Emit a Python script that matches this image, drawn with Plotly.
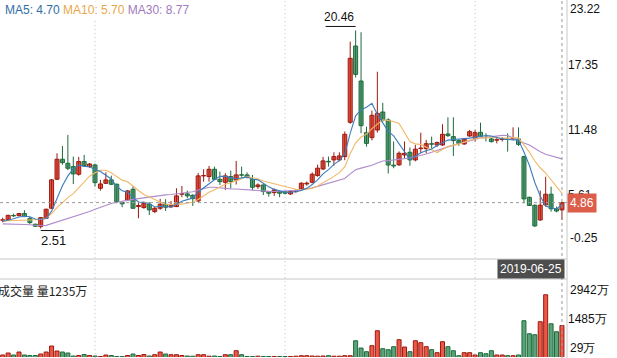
import plotly.graph_objects as go

# ---------------- data ----------------
opens = [3.27, 3.29, 3.70, 3.68, 3.87, 3.41, 2.90, 2.69, 3.44, 4.35,
         6.98, 8.79, 8.42, 8.12, 7.43, 8.58, 8.12, 8.27, 6.16, 6.61,
         6.92, 6.52, 4.88, 5.10, 6.07, 4.50, 4.41, 4.71, 4.05, 4.35,
         4.71, 4.47, 4.50, 5.62, 5.65, 5.53, 5.01, 7.28, 7.22, 7.88,
         6.97, 6.70, 7.22, 6.91, 7.37, 7.37, 6.97, 6.31, 6.46, 5.86,
         5.77, 5.86, 5.86, 5.65, 5.86, 6.10, 6.55, 6.70, 7.31, 7.91,
         8.60, 8.73, 8.73, 9.03, 12.14, 19.05, 15.88, 11.20, 10.75, 11.44,
         13.07, 12.35, 8.25, 8.28, 9.18, 9.42, 8.73, 9.75, 9.75, 10.20,
         10.08, 10.08, 11.08, 10.84, 10.48, 10.17, 10.90, 10.69, 11.23, 10.78,
         10.63, 10.52, 10.58, 10.62, 10.66, 10.63, 9.03, 5.34, 4.62, 3.29,
         4.65, 5.62, 4.30, 4.20]
highs = [3.50, 3.75, 3.85, 3.92, 4.17, 3.59, 2.95, 3.55, 4.30, 7.00,
         9.33, 9.99, 10.99, 9.03, 9.00, 9.18, 8.45, 8.40, 6.92, 7.60,
         7.30, 6.60, 4.95, 6.00, 6.37, 4.95, 4.95, 4.90, 4.50, 5.20,
         5.17, 5.00, 6.16, 6.37, 5.95, 5.60, 7.55, 7.88, 8.18, 8.12,
         7.67, 7.52, 7.76, 8.64, 8.12, 7.60, 7.37, 6.61, 6.50, 5.90,
         6.16, 5.95, 5.90, 5.95, 6.10, 6.70, 6.77, 7.60, 8.30, 9.00,
         9.03, 9.42, 9.42, 11.30, 19.45, 20.46, 20.30, 11.74, 13.20, 16.72,
         13.90, 12.50, 10.40, 9.50, 10.40, 9.85, 10.10, 11.20, 10.54, 10.84,
         10.40, 11.96, 12.59, 12.59, 10.60, 10.70, 11.45, 11.45, 12.10, 11.14,
         10.80, 10.84, 10.80, 11.14, 11.68, 11.68, 9.10, 5.40, 4.70, 5.95,
         7.21, 6.31, 4.50, 4.90]
lows = [3.08, 3.20, 3.55, 3.62, 3.55, 2.90, 2.65, 2.51, 3.40, 4.30,
        6.90, 8.30, 7.80, 6.55, 7.30, 8.10, 8.00, 6.31, 5.95, 6.55,
        6.45, 4.80, 4.44, 5.00, 4.30, 3.44, 4.30, 3.74, 3.90, 4.20,
        4.10, 4.40, 4.45, 5.35, 5.25, 4.56, 4.90, 6.76, 6.76, 6.90,
        6.46, 6.01, 6.16, 6.50, 7.20, 7.05, 6.01, 6.10, 5.55, 5.40,
        5.47, 5.35, 5.60, 5.55, 5.75, 6.00, 6.40, 6.60, 7.20, 7.80,
        8.12, 8.20, 8.60, 8.70, 12.00, 16.20, 11.15, 9.93, 10.50, 11.20,
        12.20, 7.50, 7.97, 8.20, 8.90, 8.20, 8.60, 9.33, 9.33, 9.78,
        9.90, 10.00, 10.80, 9.09, 10.00, 10.10, 10.80, 10.40, 10.80, 10.40,
        10.30, 10.23, 10.40, 9.48, 10.50, 10.00, 4.80, 4.55, 2.65, 3.20,
        4.50, 4.04, 3.98, 3.29]
closes = [3.30, 3.71, 3.66, 3.87, 3.59, 3.05, 2.72, 3.50, 4.26, 6.92,
          8.79, 8.48, 7.97, 7.46, 8.58, 8.21, 8.36, 6.67, 6.55, 6.92,
          6.52, 4.95, 4.75, 5.92, 4.35, 4.60, 4.80, 4.20, 4.35, 4.71,
          4.44, 4.59, 5.47, 5.68, 5.47, 5.22, 7.28, 7.31, 7.88, 6.97,
          6.76, 7.28, 6.76, 7.37, 7.35, 7.16, 6.25, 6.46, 5.86, 5.71,
          6.01, 5.71, 5.71, 5.86, 5.95, 6.62, 6.62, 7.43, 7.98, 8.64,
          8.55, 9.03, 9.09, 11.05, 17.94, 16.48, 11.83, 10.23, 12.77, 12.95,
          12.35, 8.27, 8.18, 9.33, 9.33, 8.73, 9.70, 9.80, 10.20, 10.15,
          10.30, 11.05, 10.93, 10.48, 10.23, 10.60, 11.29, 11.20, 10.84, 10.75,
          10.39, 10.56, 10.62, 10.58, 10.71, 10.14, 5.20, 4.60, 2.75, 4.62,
          5.62, 4.30, 4.10, 4.86]
volumes = [106, 182, 106, 220, 106, 86, 86, 144, 220, 450,
           259, 220, 182, 67, 86, 125, 86, 67, 48, 106,
           86, 48, 48, 86, 144, 86, 125, 67, 117, 220,
           144, 117, 117, 86, 67, 60, 117, 117, 60, 67,
           48, 117, 117, 270, 117, 48, 48, 60, 48, 48,
           48, 48, 48, 48, 60, 79, 79, 67, 60, 67,
           79, 60, 60, 79, 79, 653, 374, 232, 462, 1036,
           347, 309, 424, 692, 412, 232, 653, 577, 424, 309,
           194, 615, 424, 270, 79, 194, 194, 106, 194, 155,
           270, 106, 106, 79, 79, 106, 1419, 921, 883, 1381,
           2415, 1304, 998, 1235]

ma5_head = [3.15, 3.25, 3.40, 3.55]
ma10_head = [3.20, 3.22, 3.25, 3.28, 3.30, 3.30, 3.28, 3.33, 3.45]
ma30_head = [2.93, 2.93, 2.92, 2.90, 2.88, 2.85, 2.80, 2.76, 2.80, 2.95,
             3.15, 3.30, 3.45, 3.55, 3.70, 3.85, 4.05, 4.25, 4.45, 4.62,
             4.78, 4.90, 5.00, 5.08, 5.15, 5.22, 5.30, 5.35, 5.40]

idx = list(range(len(closes)))
grid_idx = [17, 52, 87]
price_ticks = [17.35, 11.48, 5.61]
price_min, price_max = -0.25, 23.22
vol_mid = [1485]
vol_min, vol_max = 29, 2942
last_date = "2019-06-25"
last_price = 4.86
max_idx, max_price = 65, 20.46
min_idx, min_price = 7, 2.51
legend_names = ["MA5", "MA10", "MA30"]
legend_values = [4.70, 5.70, 8.77]
cur_volume = 1235


def moving_average(n, head):
    out = list(head)
    for i in range(len(head), len(closes)):
        out.append(sum(closes[i - n + 1:i + 1]) / n)
    return out


ma5 = moving_average(5, ma5_head)
ma10 = moving_average(10, ma10_head)
ma30 = moving_average(30, ma30_head)

RED_FILL, RED_LINE = "#ec5846", "#9a1a10"
GRN_FILL, GRN_LINE = "#5ba27a", "#1d6b3c"
C_MA5, C_MA10, C_MA30 = "#3d7dbd", "#f0b868", "#b08ccc"
T_MA5, T_MA10, T_MA30 = "#2f6ea5", "#e9a74a", "#a07bbd"
FONT = "Liberation Sans, Arial, sans-serif"
BODY_W = 0.74

up = [c >= o for o, c in zip(opens, closes)]

fig = go.Figure()

# wicks (high-low), one trace per colour
for flag, col in [(True, RED_LINE), (False, GRN_LINE)]:
    wx, wy = [], []
    for i in idx:
        if up[i] == flag:
            wx += [i, i, None]
            wy += [lows[i], highs[i], None]
    fig.add_trace(go.Scatter(x=wx, y=wy, mode="lines", line=dict(color=col, width=1),
                             xaxis="x", yaxis="y", showlegend=False, hoverinfo="skip"))

# candle bodies
fig.add_trace(go.Bar(
    x=idx,
    base=[min(o, c) for o, c in zip(opens, closes)],
    y=[max(abs(c - o), 0.03) for o, c in zip(opens, closes)],
    width=BODY_W,
    marker=dict(color=[RED_FILL if u else GRN_FILL for u in up],
                line=dict(color=[RED_LINE if u else GRN_LINE for u in up], width=1)),
    xaxis="x", yaxis="y", showlegend=False, hoverinfo="skip"))

for vals, col in [(ma30, C_MA30), (ma10, C_MA10), (ma5, C_MA5)]:
    fig.add_trace(go.Scatter(x=idx, y=vals, mode="lines",
                             line=dict(color=col, width=1.1),
                             xaxis="x", yaxis="y", showlegend=False, hoverinfo="skip"))

fig.add_trace(go.Bar(
    x=idx, y=volumes, width=BODY_W,
    marker=dict(color=[RED_FILL if u else GRN_FILL for u in up],
                line=dict(color=[RED_LINE if u else GRN_LINE for u in up], width=1)),
    xaxis="x2", yaxis="y2", showlegend=False, hoverinfo="skip"))

W, H = 617, 358
pane_bottom_px, band_bottom_px = 259, 279
vol_top_px, vol_bottom_px = 281, 357


def py(px):
    return 1 - px / H


xr = [-0.5, len(closes) - 0.07]
fig.update_layout(
    width=W, height=H, margin=dict(l=0, r=50, t=0, b=0),
    paper_bgcolor="white", plot_bgcolor="white", barmode="overlay",
    font=dict(family=FONT, size=12, color="#222"),
    xaxis=dict(domain=[0, 1], range=xr, showticklabels=False, showgrid=False,
               zeroline=False, anchor="y"),
    xaxis2=dict(domain=[0, 1], range=xr, matches="x", showticklabels=False,
                showgrid=False, zeroline=False, anchor="y2"),
    yaxis=dict(domain=[py(pane_bottom_px), 1], range=[price_min, price_max],
               side="right", tickvals=price_ticks,
               ticktext=[f"{v:.2f}" for v in price_ticks],
               showgrid=False, zeroline=False, ticks="", ticklabelstandoff=0,
               tickfont=dict(size=12, color="#111")),
    yaxis2=dict(domain=[py(vol_bottom_px), py(vol_top_px)], range=[vol_min, vol_max],
                side="right", tickvals=vol_mid, ticktext=[f"{v}万" for v in vol_mid],
                showgrid=False, zeroline=False, ticks="", ticklabelstandoff=0,
                tickfont=dict(size=12, color="#111")),
)

shapes = []
for g in grid_idx:
    shapes.append(dict(type="line", xref="x", yref="paper", x0=g, x1=g, y0=0, y1=1,
                       line=dict(color="#c4c4c4", width=1, dash="1px,3px"), layer="below"))
for ypx in (pane_bottom_px, band_bottom_px):
    shapes.append(dict(type="line", xref="paper", yref="paper", x0=0, x1=1,
                       y0=py(ypx), y1=py(ypx), line=dict(color="#c8c8c8", width=1)))
shapes.append(dict(type="line", xref="paper", yref="paper", x0=1, x1=1, y0=0, y1=1,
                   line=dict(color="#c8c8c8", width=1)))
# crosshair at last candle
shapes.append(dict(type="line", xref="x", yref="paper", x0=idx[-1], x1=idx[-1], y0=0, y1=1,
                   line=dict(color="#9a9a9a", width=1, dash="3px,3px")))
shapes.append(dict(type="line", xref="paper", yref="y", x0=0, x1=1, y0=last_price, y1=last_price,
                   line=dict(color="#9a9a9a", width=1, dash="3px,3px")))
# max / min markers
shapes.append(dict(type="line", xref="x", xsizemode="pixel", xanchor=max_idx, x0=-30, x1=0,
                   yref="y", ysizemode="pixel", yanchor=max_price, y0=4, y1=4,
                   line=dict(color="#111", width=1)))
shapes.append(dict(type="line", xref="x", xsizemode="pixel", xanchor=min_idx, x0=0, x1=23,
                   yref="y", ysizemode="pixel", yanchor=min_price, y0=-2, y1=-2,
                   line=dict(color="#111", width=1)))

legend_txt = " ".join(
    f'<span style="color:{c}">{n}: {v:.2f}</span>'
    for n, v, c in zip(legend_names, legend_values, [T_MA5, T_MA10, T_MA30]))

ann = [
    dict(text=legend_txt, xref="paper", yref="paper", x=0, y=1, xanchor="left", yanchor="top",
         xshift=3, yshift=-1, showarrow=False, bgcolor="white", font=dict(size=12)),
    dict(text=f"{price_max:.2f}", xref="paper", yref="y", x=1, y=price_max, xanchor="left",
         yanchor="top", xshift=1, showarrow=False, font=dict(size=12, color="#111")),
    dict(text=f"{price_min:.2f}", xref="paper", yref="y", x=1, y=price_min, xanchor="left",
         yanchor="bottom", xshift=1, yshift=12, showarrow=False, font=dict(size=12, color="#111")),
    dict(text=f"{vol_max}万", xref="paper", yref="y2", x=1, y=vol_max, xanchor="left",
         yanchor="top", xshift=1, showarrow=False, font=dict(size=12, color="#111")),
    dict(text=f"{vol_min}万", xref="paper", yref="y2", x=1, y=vol_min, xanchor="left",
         yanchor="bottom", xshift=1, showarrow=False, font=dict(size=12, color="#111")),
    dict(text=f"{last_price:.2f}", xref="paper", yref="y", x=1, y=last_price, xanchor="left",
         yanchor="middle", showarrow=False, bgcolor="#dc5e4a", borderpad=2,
         font=dict(size=12, color="white")),
    dict(text=last_date, xref="paper", yref="paper", x=1, y=py((pane_bottom_px + band_bottom_px) / 2),
         xanchor="right", yanchor="middle", xshift=-2, showarrow=False, bgcolor="#4d4d4d",
         borderpad=2, font=dict(size=12, color="white")),
    dict(text=f"{max_price:.2f}", xref="x", yref="y", x=max_idx, y=max_price, xanchor="right",
         yanchor="bottom", yshift=4, showarrow=False, font=dict(size=12, color="#111")),
    dict(text=f"{min_price:.2f}", xref="x", yref="y", x=min_idx, y=min_price, xanchor="left",
         yanchor="top", yshift=-2, xshift=-2, showarrow=False, font=dict(size=13, color="#111")),
    dict(text=f"成交量 量{cur_volume}万", xref="paper", yref="paper", x=0, y=py(band_bottom_px),
         xanchor="left", yanchor="top", xshift=-4, yshift=-1, showarrow=False,
         font=dict(size=12, color="#222", family="Noto Sans CJK SC, sans-serif")),
]
fig.update_layout(shapes=shapes, annotations=ann)

fig.write_html("out.html", config={"displayModeBar": False},
               post_script="document.body.style.margin='0';")
